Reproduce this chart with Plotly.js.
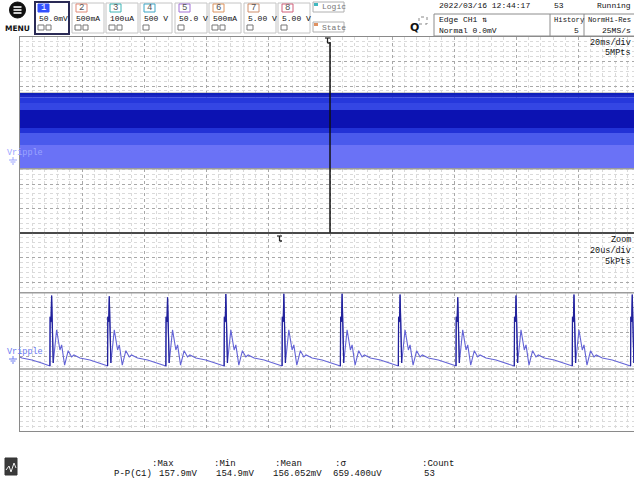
<!DOCTYPE html>
<html><head><meta charset="utf-8">
<script src="https://cdn.plot.ly/plotly-3.0.1.min.js"></script>
<style>html,body{margin:0;padding:0;background:#fff;overflow:hidden}#chart{width:634px;height:485px}</style>
</head><body><div id="chart"></div>
<script>
// Main window (20 ms/div, 50 mV/div): envelope layers of the dense ripple record (mV)
const mainTime = [-100, 100];                      // ms, full record
const bandLevels = [128.6, 122.0, 110.2, 95.9, 59.2, 49.0, 24.5, -22.5, -24.5];
const bandColors = ['#1a26c6', '#2638dc', '#3446e4', '#0c12b2', '#2232d6', '#4a5aec', '#6a72f6', '#4654e6'];
const cursorLevels = [130, -24];                   // horizontal cursors (mV)

// Zoom window (20 us/div, 50 mV/div)
const zoomTime = [-100, 100];                      // us
const pulsePeakTimes = [-108.5, -89.8, -71.2, -52.4, -33.6, -14.9, 3.9, 22.6, 41.2, 60.0, 78.7, 97.5];
const pulsePeakValues = [124, 124, 122.6, 120.5, 127.4, 128, 128, 126, 120.5, 124, 126, 126];
// one ringing period: time after each peak (us) and level (mV); peak level is per pulse
const pulseShapeDt = [-0.55, -0.48, -0.19, 0, 0.52, 1.61, 2.68, 3.23, 4.19, 5.35, 6.45, 7.19, 9.13, 12.35, 15.48, 17.52, 18.16];
const pulseShapeV  = [-18.3, 81.3, 71.0, null, -12.2, 54.9, 14.2, 24.4, -16.3, 12.8, 0.0, 4.1, -2.0, -6.1, -12.2, -16.3, -18.3];

// Header texts
const chanNames  = ['1', '2', '3', '4', '5', '6', '7', '8'];
const chanScales = ['50.0mV', '500mA', '100uA', '500 V', '50.0 V', '500mA', '5.00 V', '5.00 V'];
const chanColors = ['#3350ff', '#e08a78', '#3fb4b4', '#3fa6c6', '#a273d6', '#dc9460', '#cf8e6a', '#d0607a'];
const measNames  = [':Max', ':Min', ':Mean', ':σ', ':Count'];
const measValues = ['157.9mV', '154.9mV', '156.052mV', '659.400uV', '53'];

// ---------- helpers ----------
const W = 634, H = 485;
const X = px => px / W, Y = py => 1 - py / H;
const FONT = 'Liberation Mono, DejaVu Sans Mono, monospace';
const ann = [], shp = [];
function txt(x, y, s, o) {
  o = o || {};
  ann.push({x: X(x), y: Y(y), xref: 'paper', yref: 'paper', text: s, showarrow: false,
    xanchor: o.anchor || 'left', yanchor: 'middle',
    font: {family: o.family || FONT, size: o.size || 9, color: o.color || '#111'}});
}
function rect(x0, y0, x1, y1, o) {
  o = o || {};
  shp.push({type: 'rect', xref: 'paper', yref: 'paper', x0: X(x0), x1: X(x1), y0: Y(y1), y1: Y(y0),
    line: {color: o.line || '#999', width: o.lw === undefined ? 1 : o.lw, dash: o.dash || 'solid'},
    fillcolor: o.fill || 'rgba(0,0,0,0)', layer: 'above'});
}
function line(x0, y0, x1, y1, color, w) {
  shp.push({type: 'line', xref: 'paper', yref: 'paper', x0: X(x0), x1: X(x1), y0: Y(y0), y1: Y(y1),
    line: {color: color, width: w || 1}, layer: 'above'});
}

// ---------- traces ----------
const traces = [];
for (let i = 0; i < bandColors.length; i++) {
  const top = bandLevels[i], bot = bandLevels[i + 1];
  traces.push({x: [mainTime[0], mainTime[1], mainTime[1], mainTime[0]], y: [top, top, bot, bot],
    xaxis: 'x', yaxis: 'y', mode: 'lines', fill: 'toself', fillcolor: bandColors[i],
    line: {width: 0, color: bandColors[i]}, hoverinfo: 'skip', showlegend: false});
}
cursorLevels.forEach(c => {
  traces.push({x: mainTime, y: [c, c], xaxis: 'x', yaxis: 'y', mode: 'lines',
    line: {color: '#9c9c9c', width: 1.5}, showlegend: false, hoverinfo: 'skip'});
  traces.push({x: zoomTime, y: [c, c], xaxis: 'x2', yaxis: 'y2', mode: 'lines',
    line: {color: '#9c9c9c', width: 1.5}, showlegend: false, hoverinfo: 'skip'});
});
// noisy top edge of the envelope (drawn as a darker rim)
traces.push({x: mainTime, y: [bandLevels[0], bandLevels[0]], xaxis: 'x', yaxis: 'y', mode: 'lines',
  line: {color: '#1020b8', width: 2}, showlegend: false, hoverinfo: 'skip'});
const rt = [], rv = [], st = [], sv = [];
pulsePeakTimes.forEach((p, i) => {
  pulseShapeDt.forEach((dt, j) => {
    const v = j === 3 ? pulsePeakValues[i] : pulseShapeV[j];
    rt.push(p + dt); rv.push(v);
    if (j <= 4) { st.push(p + dt); sv.push(v); }
  });
  st.push(null); sv.push(null);
});
traces.push({x: rt, y: rv, xaxis: 'x2', yaxis: 'y2', mode: 'lines',
  line: {color: '#6464d6', width: 1.1}, showlegend: false});
traces.push({x: st, y: sv, xaxis: 'x2', yaxis: 'y2', mode: 'lines',
  line: {color: '#22229a', width: 1.2}, showlegend: false});

// ---------- axes ----------
function ax(extra) {
  return Object.assign({
    showgrid: true, gridcolor: '#a8a8a8', griddash: 'dot', gridwidth: 1,
    showticklabels: false, ticks: '', zeroline: false, tickmode: 'linear',
    showline: true, linecolor: '#8a8a8a', linewidth: 1, mirror: true, fixedrange: true
  }, extra);
}
const MINOR = '#dadada';
const xDom = [X(20), 1];
const layout = {
  width: W, height: H, margin: {l: 0, r: 0, t: 0, b: 0},
  paper_bgcolor: '#ffffff', plot_bgcolor: '#ffffff', showlegend: false,
  xaxis: ax({domain: xDom, range: [-100, 98.06], tick0: -100, dtick: 20,
    minor: {showgrid: true, tick0: -100, dtick: 4, gridcolor: MINOR, gridwidth: 1}, anchor: 'y'}),
  yaxis: ax({domain: [Y(233), Y(37)], range: [-155, 245], tick0: -155, dtick: 50,
    minor: {showgrid: true, tick0: -155, dtick: 10, gridcolor: MINOR, gridwidth: 1}, anchor: 'x'}),
  xaxis2: ax({domain: xDom, range: [-100, 98.06], tick0: -100, dtick: 20,
    minor: {showgrid: true, tick0: -100, dtick: 4, gridcolor: MINOR, gridwidth: 1}, anchor: 'y2'}),
  yaxis2: ax({domain: [Y(431), Y(233)], range: [-149.5, 250.5], tick0: -149.5, dtick: 50,
    minor: {showgrid: true, tick0: -149.5, dtick: 10, gridcolor: MINOR, gridwidth: 1}, anchor: 'x2'}),
  annotations: ann, shapes: shp
};

// trigger line and markers
shp.push({type: 'line', xref: 'x', yref: 'paper', x0: 0, x1: 0, y0: Y(233), y1: Y(42),
  line: {color: '#111', width: 1.5}, layer: 'above'});
line(20, 233, 634, 233, '#333', 1.5);
line(325, 38, 330, 38, '#222', 1.2); line(327.5, 38, 327.5, 43, '#222', 1.2); line(327.5, 43, 330, 43, '#222', 1.5);
line(277, 236, 282, 236, '#222', 1.2); line(279.5, 236, 279.5, 241, '#222', 1.2); line(279.5, 241, 282, 241, '#222', 1.5);

// ground / label markers
[[153, '#9aa4ff'], [352, '#6c7cf0']].forEach(([yy, c]) => {
  txt(5, yy, 'Vripple', {color: c, size: 8.5});
  line(13, yy + 4, 13, yy + 7, c, 1);
  line(9, yy + 7, 17, yy + 7, c, 1);
  line(10.5, yy + 9, 15.5, yy + 9, c, 1);
  line(12, yy + 11, 14, yy + 11, c, 1);
});

// panel labels (right aligned at the screen edge)
txt(633, 43, '20ms/div', {anchor: 'right', size: 8.5}); txt(633, 53, '5MPts', {anchor: 'right', size: 8.5});
txt(633, 240, 'Zoom', {anchor: 'right', size: 8.5}); txt(633, 251, '20us/div', {anchor: 'right', size: 8.5});
txt(633, 262, '5kPts', {anchor: 'right', size: 8.5});

// MENU
shp.push({type: 'circle', xref: 'paper', yref: 'paper', x0: X(9.5), x1: X(25.5), y0: Y(18), y1: Y(2),
  fillcolor: '#111', line: {color: '#111', width: 1}, layer: 'above'});
[7, 10, 13].forEach(yy => line(13.5, yy, 21.5, yy, '#fff', 1.6));
txt(17.5, 28, '<b>MENU</b>', {anchor: 'center', size: 7.5, family: 'DejaVu Sans, sans-serif'});

// channel boxes
const boxX = [35, 72, 106, 140, 175, 209, 244, 278];
chanNames.forEach((n, i) => {
  const x0 = boxX[i];
  if (i === 0) rect(x0, 2, x0 + 34, 34, {line: '#2a2a55', lw: 2});
  else rect(x0, 3, x0 + 32, 33, {line: '#c4c4c4', lw: 1});
  if (i === 0) rect(x0 + 3, 4, x0 + 14, 12, {line: chanColors[i], fill: chanColors[i], lw: 1});
  else rect(x0 + 4, 4, x0 + 15, 12, {line: chanColors[i], lw: 1});
  txt(x0 + (i === 0 ? 8.5 : 9.5), 8, n, {anchor: 'center', size: 9, color: i === 0 ? '#ffffff' : '#555'});
  txt(x0 + 1.5, 19, chanScales[i], {size: 8});
  rect(x0 + 3, 25, x0 + 9, 30, {line: '#777', lw: 1});
  if (i !== 3 && i !== 4 && i !== 6 && i !== 7) rect(x0 + 11, 25, x0 + 16, 30, {line: '#777', lw: 1});
});
// Logic / State buttons
rect(313, 2, 344, 12, {line: '#b0b0b0'});
rect(314, 3, 318, 6, {line: '#40b8c0', fill: '#40b8c0', lw: 0});
txt(320, 7, 'Logic', {size: 8, color: '#777'});
rect(313, 22, 344, 32, {line: '#b0b0b0'});
rect(314, 23, 318, 26, {line: '#e09060', fill: '#e09060', lw: 0});
txt(320, 27, 'State', {size: 8, color: '#777'});

// zoom icon
txt(414, 27, '<b>Q</b>', {anchor: 'center', size: 11, family: 'DejaVu Sans, sans-serif'});
rect(419, 17, 427, 24, {line: '#888', dash: 'dot', lw: 1});

// trigger / acquisition box
const HF = 8;
txt(437, 6, '2022/03/16 12:44:17', {size: HF});
txt(552, 6, '53', {size: HF});
txt(633, 6, 'Running', {size: HF, anchor: 'right'});
rect(434, 14, 640, 36, {line: '#8c8c8c'});
line(550, 14, 550, 36, '#8c8c8c', 1);
line(584, 14, 584, 36, '#8c8c8c', 1);
txt(437, 20, 'Edge CH1 ⇅', {size: HF});
txt(437, 30, 'Normal 0.0mV', {size: HF});
txt(551.5, 20, 'History', {size: 7.2});
txt(581, 30, '5', {size: HF, anchor: 'right'});
txt(633, 20, 'NormHi-Res', {size: 7.2, anchor: 'right'});
txt(633, 30, '25MS/s', {size: HF, anchor: 'right'});

// measurement row
rect(5, 458, 17, 475, {line: '#333', fill: '#3a3a3a', lw: 1});
shp.push({type: 'path', xref: 'paper', yref: 'paper', layer: 'above',
  path: `M ${X(6)} ${Y(470)} L ${X(9)} ${Y(466)} L ${X(11)} ${Y(472)} L ${X(14)} ${Y(463)} L ${X(16)} ${Y(468)}`,
  line: {color: '#eee', width: 1}});
txt(112, 474, 'P-P(C1)', {size: 9});
const measLabelX = [150, 212, 273, 333, 420];
const measValueX = [157, 214, 271, 331, 422];
measNames.forEach((n, i) => {
  txt(measLabelX[i], 464, n, {size: 9});
  txt(measValueX[i], 474, measValues[i], {size: 9});
});

Plotly.newPlot('chart', traces, layout, {displayModeBar: false, staticPlot: true});
</script></body></html>
